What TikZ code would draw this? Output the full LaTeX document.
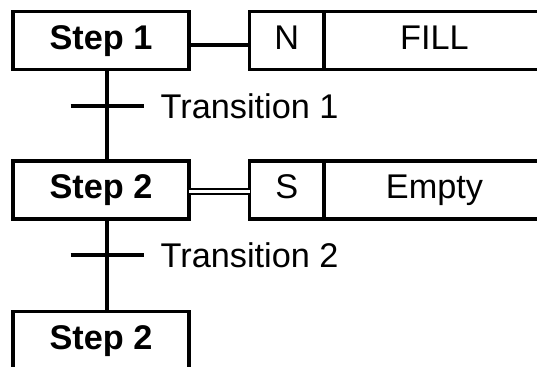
\documentclass[tikz,border=0pt]{standalone}
\usepackage{fontspec}
\setmainfont{Liberation Sans}
\usetikzlibrary{positioning}

\tikzset{
  box/.style={draw, line width=2pt, outer sep=0pt, minimum height=1.16cm,
    text height=14pt, text depth=4pt, font=\fontsize{19.5}{23}\selectfont},
  stepbox/.style={box, minimum width=3.52cm, font=\fontsize{19.5}{23}\selectfont\bfseries},
  qualbox/.style={box, minimum width=1.49cm},
  actbox/.style={box, minimum width=4.42cm},
  link/.style={line width=2pt},
  translabel/.style={anchor=west, font=\fontsize{19.5}{23}\selectfont}
}

\begin{document}
\begin{tikzpicture}
  \useasboundingbox (0,0) rectangle (10.74,-7.34);
  \clip (0,0) rectangle (10.74,-7.34);

  % Steps
  \node[stepbox] (step1) at (2.02,-0.81) {Step 1};
  \node[stepbox] (step2) at (2.02,-3.80) {Step 2};
  \node[stepbox] (step3) at (2.02,-6.81) {Step 2};

  % Actions with their qualifiers
  \node[qualbox] (qual1) at (5.735,-0.81) {N};
  \node[actbox, anchor=west] (act1) at (qual1.east) {FILL};
  \node[qualbox] (qual2) at (5.735,-3.80) {S};
  \node[actbox, anchor=west] (act2) at (qual2.east) {Empty};

  % Transition points on the spine
  \coordinate (t1) at (2.14,-2.12);
  \coordinate (t2) at (2.14,-5.10);

  % Spine through the transitions
  \draw[link] (step1.south -| t1) -- (step2.north -| t1);
  \draw[link] (step2.south -| t2) -- (step3.north -| t2);

  % Transition bars and labels
  \draw[link] ([xshift=-0.73cm]t1) -- ([xshift=0.73cm]t1) coordinate (t1end);
  \node[translabel] (trans1) at ([xshift=0.22cm]t1end) {Transition 1};
  \draw[link] ([xshift=-0.73cm]t2) -- ([xshift=0.73cm]t2) coordinate (t2end);
  \node[translabel] (trans2) at ([xshift=0.22cm]t2end) {Transition 2};

  % Links from steps to actions
  \draw[link] ([yshift=-0.09cm]step1.east) -- ([yshift=-0.09cm]qual1.west);
  \draw[line width=1.3pt, double, double distance=1.5pt]
    ([yshift=-0.03cm]step2.east) -- ([yshift=-0.03cm]qual2.west);
\end{tikzpicture}
\end{document}
